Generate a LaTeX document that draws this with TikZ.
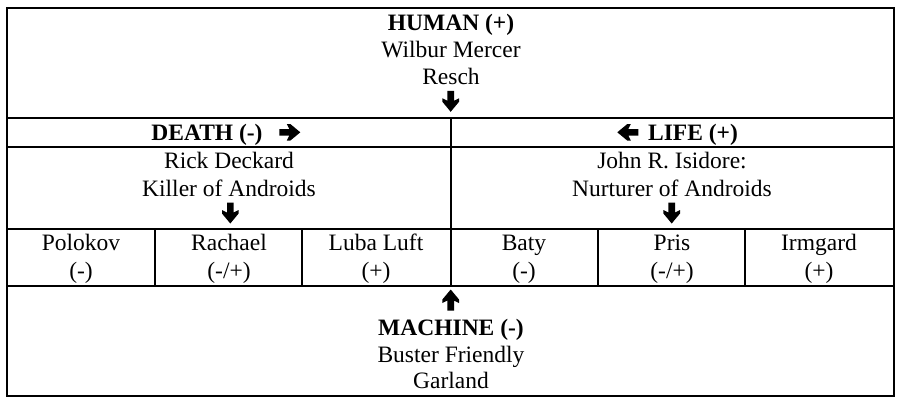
\documentclass[tikz,border=0pt]{standalone}
\usepackage{fontspec}
\setmainfont{Liberation Serif}
\begin{document}
\begin{tikzpicture}[x=1bp,y=-1bp,
  grid/.style={line width=1.2bp},
  txt/.style={font=\fontsize{23.5bp}{27bp}\selectfont, inner sep=0, anchor=base},
  bold/.style={txt, font=\fontsize{23.5bp}{27bp}\selectfont\bfseries},
  downarr/.pic={\fill (-3.3,-10.5) -- (3.3,-10.5) -- (3.3,-0.5) -- (8.3,-3) -- (8.3,0.5) -- (0,10.5) -- (-8.3,0.5) -- (-8.3,-3) -- (-3.3,-0.5) -- cycle;},
  uparr/.pic={\fill (-3.3,10.5) -- (3.3,10.5) -- (3.3,0.5) -- (8.3,3) -- (8.3,-0.5) -- (0,-10.5) -- (-8.3,-0.5) -- (-8.3,3) -- (-3.3,0.5) -- cycle;},
  rightarr/.pic={\fill (-10.5,-3.3) -- (-10.5,3.3) -- (-0.5,3.3) -- (-3,8.3) -- (0.5,8.3) -- (10.5,0) -- (0.5,-8.3) -- (-3,-8.3) -- (-0.5,-3.3) -- cycle;},
  leftarr/.pic={\fill (10.5,-3.3) -- (10.5,3.3) -- (0.5,3.3) -- (3,8.3) -- (-0.5,8.3) -- (-10.5,0) -- (-0.5,-8.3) -- (3,-8.3) -- (0.5,-3.3) -- cycle;}]
\useasboundingbox (0,0) rectangle (901,404);
% grid
\draw[grid] (7,8) rectangle (894,396);
\draw[grid] (7,118) -- (894,118);
\draw[grid] (7,147) -- (894,147);
\draw[grid] (7,229) -- (894,229);
\draw[grid] (7,286) -- (894,286);
\draw[grid] (451,118) -- (451,286);
\foreach \x in {155,302,598,745} \draw[grid] (\x,229) -- (\x,286);
% top
\node[bold] (human) at (451,30) {HUMAN (+)};
\node[txt] (wilbur) at (451,57) {Wilbur Mercer};
\node[txt] (resch) at (451,84) {Resch};
\pic at (450.7,101.3) {downarr};
% death / life
\node[bold] (death) at (207,140) {DEATH (-)};
\pic at (289.8,132.3) {rightarr};
\pic at (627.8,132.3) {leftarr};
\node[bold] (life) at (693,140) {LIFE (+)};
\node[txt] (rick) at (229,168) {Rick Deckard};
\node[txt] (killer) at (229,196) {Killer of Androids};
\pic at (230.3,213) {downarr};
\node[txt] (john) at (672,168) {John R. Isidore:};
\node[txt] (nurt) at (672,196) {Nurturer of Androids};
\pic at (671.7,213) {downarr};
% row 3
\node[txt] (polokov) at (81,250) {Polokov};
\node[txt] (polokovs) at (81,278) {(-)};
\node[txt] (rachael) at (229,250) {Rachael};
\node[txt] (rachaels) at (229,278) {(-/+)};
\node[txt] (luba) at (376,250) {Luba Luft};
\node[txt] (lubas) at (376,278) {(+)};
\node[txt] (baty) at (524,250) {Baty};
\node[txt] (batys) at (524,278) {(-)};
\node[txt] (pris) at (672,250) {Pris};
\node[txt] (priss) at (672,278) {(-/+)};
\node[txt] (irmgard) at (819,250) {Irmgard};
\node[txt] (irmgards) at (819,278) {(+)};
% machine
\pic at (450.7,300) {uparr};
\node[bold] (machine) at (451,335) {MACHINE (-)};
\node[txt] (buster) at (451,362) {Buster Friendly};
\node[txt] (garland) at (451,388) {Garland};
\end{tikzpicture}
\end{document}
